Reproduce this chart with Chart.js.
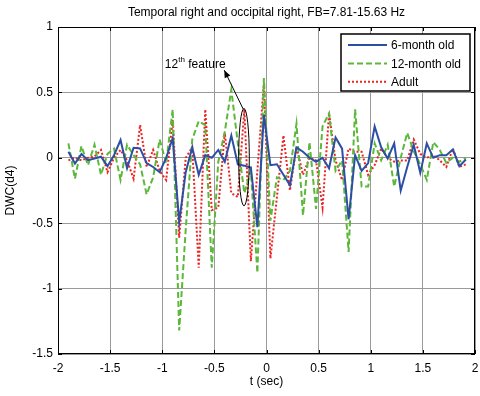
<!DOCTYPE html>
<html>
<head>
<meta charset="utf-8">
<script src="https://cdn.jsdelivr.net/npm/chart.js@4.4.1/dist/chart.umd.min.js"></script>
<style>
  html, body { margin: 0; padding: 0; background: #fff; }
  #wrap { width: 480px; height: 396px; }
</style>
</head>
<body>
<div id="wrap"><canvas id="chart" width="480" height="396"></canvas></div>
<script>
// ============================
// Data
// ============================
const times = [
  -1.9, -1.8375, -1.775, -1.7125, -1.65, -1.5875, -1.525, -1.4625, -1.4, -1.3375,
  -1.275, -1.2125, -1.15, -1.0875, -1.025, -0.9625, -0.9, -0.8375, -0.775, -0.7125,
  -0.65, -0.5875, -0.525, -0.4625, -0.4, -0.3375, -0.275, -0.2125, -0.15, -0.0875,
  -0.025, 0.0375, 0.1, 0.1625, 0.225, 0.2875, 0.35, 0.4125, 0.475, 0.5375,
  0.6, 0.6625, 0.725, 0.7875, 0.85, 0.9125, 0.975, 1.0375, 1.1, 1.1625,
  1.225, 1.2875, 1.35, 1.4125, 1.475, 1.5375, 1.6, 1.6625, 1.725, 1.7875,
  1.85, 1.9125
];

const sixMonth = [
  0.046, -0.044, 0.028, -0.018, -0.005, 0.008, -0.064, 0.02, 0.136, -0.08,
  0.077, 0.072, -0.04, -0.07, -0.11, 0.0, 0.15, -0.49, -0.11, 0.08,
  -0.13, 0.02, 0.0, 0.06, -0.03, 0.17, -0.05, -0.06, -0.075, -0.53,
  0.33, -0.056, -0.05, -0.13, -0.21, 0.08, 0.046, 0.0, -0.03, 0.0,
  -0.08, 0.156, 0.07, -0.47, 0.02, -0.1, -0.04, 0.24, 0.08, -0.005,
  0.11, -0.25, -0.07, 0.1, -0.115, 0.11, 0.0, 0.02, 0.02, 0.064,
  -0.064, -0.013
];

const twelveMonth = [
  0.11, -0.16, 0.09, -0.056, 0.1, -0.13, 0.03, 0.07, -0.17, 0.1,
  0.02, -0.05, -0.28, -0.15, 0.14, -0.04, 0.37, -1.32, -0.55, 0.14,
  0.28, 0.25, -0.84, -0.03, 0.2, 0.52, 0.11, -0.27, -0.1, -0.88,
  0.61, -0.48, -0.15, -0.17, -0.1, 0.26, -0.44, 0.12, -0.39, 0.24,
  0.34, -0.1, -0.02, -0.72, 0.37, -0.22, -0.22, 0.11, -0.02, 0.1,
  -0.22, 0.0, 0.19, 0.05, -0.05, -0.17, 0.12, 0.06, -0.04, 0.0,
  -0.03, 0.0
];

const adult = [
  -0.02, 0.0, -0.02, 0.0, 0.01, 0.06, -0.11, 0.0, 0.06, -0.02,
  -0.16, 0.25, -0.07, 0.06, -0.1, -0.17, 0.29, -0.61, 0.0, 0.08,
  -0.84, 0.37, -0.4, -0.38, 0.19, -0.27, -0.3, 0.37, -0.79, -0.1,
  0.57, -0.77, -0.3, 0.17, -0.25, 0.085, -0.13, 0.0, -0.02, -0.38,
  0.34, -0.02, -0.17, 0.07, 0.046, 0.046, -0.13, -0.056, 0.07, 0.0,
  -0.03, -0.02, -0.02, 0.14, 0.03, 0.0, 0.02, -0.02, -0.07, 0.07,
  -0.07, -0.05
];

const seriesNames = ["6-month old", "12-month old", "Adult"];
const xTicks = [-2, -1.5, -1, -0.5, 0, 0.5, 1, 1.5, 2];
const yTicks = [-1.5, -1, -0.5, 0, 0.5, 1];

// annotation: "12th feature" ellipse + arrow (data units)
const featureEllipse = { x: -0.216, y: 0.005, rx: 0.051, ry: 0.372 };
const featureArrow = { fromX: -0.222, fromY: 0.37, toX: -0.405, toY: 0.67 };
const featureLabel = { x: -0.975, y: 0.685, text: "12", sup: "th", rest: " feature" };

const FONT = "'Liberation Sans', Arial, sans-serif";

function toPoints(ys) {
  return ys.map(function (y, i) { return { x: times[i], y: y }; });
}

// ============================
// Plugins: frame, legend, annotation
// ============================
const framePlugin = {
  id: 'frame',
  afterDatasetsDraw(chart) {
    const c = chart.ctx, a = chart.chartArea;
    const xs = chart.scales.x, ys = chart.scales.y;
    c.save();
    c.strokeStyle = '#000';
    c.lineWidth = 1;
    c.strokeRect(a.left + 0.5, a.top + 0.5, a.right - a.left - 1, a.bottom - a.top - 1);
    c.beginPath();
    xTicks.forEach(function (v) {
      const px = Math.round(xs.getPixelForValue(v)) + 0.5;
      c.moveTo(px, a.bottom); c.lineTo(px, a.bottom - 4);
      c.moveTo(px, a.top); c.lineTo(px, a.top + 4);
    });
    yTicks.forEach(function (v) {
      const py = Math.round(ys.getPixelForValue(v)) + 0.5;
      c.moveTo(a.left, py); c.lineTo(a.left + 4, py);
      c.moveTo(a.right, py); c.lineTo(a.right - 4, py);
    });
    c.stroke();
    c.restore();
  }
};

const legendPlugin = {
  id: 'boxLegend',
  afterDraw(chart) {
    const c = chart.ctx, a = chart.chartArea;
    const w = 129, h = 57;
    const x0 = a.right - 5 - w, y0 = a.top + 7;
    c.save();
    c.fillStyle = '#fff';
    c.fillRect(x0, y0, w, h);
    c.strokeStyle = '#000';
    c.lineWidth = 1.5;
    c.strokeRect(x0, y0, w, h);
    c.font = '12px ' + FONT;
    c.textBaseline = 'middle';
    chart.data.datasets.forEach(function (ds, i) {
      const yy = y0 + 11 + i * 18.4;
      c.strokeStyle = ds.borderColor;
      c.lineWidth = ds.borderWidth;
      c.setLineDash(ds.borderDash || []);
      c.beginPath();
      c.moveTo(x0 + 7, yy);
      c.lineTo(x0 + 46, yy);
      c.stroke();
      c.setLineDash([]);
      c.fillStyle = '#000';
      c.fillText(ds.label, x0 + 50, yy + 1);
    });
    c.restore();
  }
};

const notePlugin = {
  id: 'feature',
  afterDatasetsDraw(chart) {
    const c = chart.ctx;
    const xs = chart.scales.x, ys = chart.scales.y;
    c.save();
    c.strokeStyle = '#000';
    c.fillStyle = '#000';
    c.lineWidth = 1;
    // ellipse
    const cx = xs.getPixelForValue(featureEllipse.x);
    const cy = ys.getPixelForValue(featureEllipse.y);
    const rx = Math.abs(xs.getPixelForValue(featureEllipse.x + featureEllipse.rx) - cx);
    const ry = Math.abs(ys.getPixelForValue(featureEllipse.y + featureEllipse.ry) - cy);
    c.beginPath();
    c.ellipse(cx, cy, rx, ry, 0, 0, Math.PI * 2);
    c.stroke();
    // arrow
    const x1 = xs.getPixelForValue(featureArrow.fromX), y1 = ys.getPixelForValue(featureArrow.fromY);
    const x2 = xs.getPixelForValue(featureArrow.toX), y2 = ys.getPixelForValue(featureArrow.toY);
    c.beginPath();
    c.moveTo(x1, y1); c.lineTo(x2, y2);
    c.stroke();
    const ang = Math.atan2(y2 - y1, x2 - x1);
    c.beginPath();
    c.moveTo(x2, y2);
    c.lineTo(x2 - 8 * Math.cos(ang - 0.4), y2 - 8 * Math.sin(ang - 0.4));
    c.lineTo(x2 - 8 * Math.cos(ang + 0.4), y2 - 8 * Math.sin(ang + 0.4));
    c.closePath();
    c.fill();
    // label with superscript
    let tx = xs.getPixelForValue(featureLabel.x);
    const ty = ys.getPixelForValue(featureLabel.y);
    c.textBaseline = 'alphabetic';
    c.font = '12px ' + FONT;
    c.fillText(featureLabel.text, tx, ty);
    tx += c.measureText(featureLabel.text).width;
    c.font = '8px ' + FONT;
    c.fillText(featureLabel.sup, tx, ty - 6);
    tx += c.measureText(featureLabel.sup).width;
    c.font = '12px ' + FONT;
    c.fillText(featureLabel.rest, tx, ty);
    c.restore();
  }
};

// ============================
// Chart
// ============================
const ctx = document.getElementById('chart').getContext('2d');
const chart = new Chart(ctx, {
  type: 'line',
  data: {
    datasets: [{
      label: seriesNames[0],
      data: toPoints(sixMonth),
      borderColor: '#2C4FA3',
      borderWidth: 2,
      pointRadius: 0,
      tension: 0
    }, {
      label: seriesNames[1],
      data: toPoints(twelveMonth),
      borderColor: '#5CB83A',
      borderWidth: 2,
      borderDash: [6, 3],
      pointRadius: 0,
      tension: 0
    }, {
      label: seriesNames[2],
      data: toPoints(adult),
      borderColor: '#EE2222',
      borderWidth: 2,
      borderDash: [2, 2],
      pointRadius: 0,
      tension: 0
    }]
  },
  options: {
    responsive: false,
    animation: false,
    layout: { padding: { left: 0, right: 5, top: 0, bottom: 0 } },
    plugins: {
      legend: { display: false },
      tooltip: { enabled: false },
      title: {
        display: true,
        fullSize: false,
        text: 'Temporal right and occipital right, FB=7.81-15.63 Hz',
        color: '#000',
        font: { family: FONT, size: 12, weight: 'normal' },
        padding: { top: 5, bottom: 7.6 }
      }
    },
    scales: {
      x: {
        type: 'linear',
        min: -2,
        max: 2,
        afterBuildTicks: function (s) { s.ticks = xTicks.map(function (v) { return { value: v }; }); },
        afterFit: function (s) { s.height = 42; s.paddingLeft = 0; s.paddingRight = 0; },
        grid: { color: '#9a9a9a', drawTicks: false },
        border: { display: false },
        ticks: {
          color: '#000', padding: 7, font: { family: FONT, size: 12 }, maxRotation: 0,
          callback: function (v) { return String(v); }
        },
        title: { display: true, text: 't (sec)', color: '#000', font: { family: FONT, size: 12 }, padding: { top: 0, bottom: 7 } }
      },
      y: {
        type: 'linear',
        min: -1.5,
        max: 1,
        afterBuildTicks: function (s) { s.ticks = yTicks.map(function (v) { return { value: v }; }); },
        afterFit: function (s) { s.width = 58; s.paddingTop = 0; s.paddingBottom = 0; },
        grid: { color: '#9a9a9a', drawTicks: false },
        border: { display: false },
        ticks: {
          color: '#000', padding: 5, font: { family: FONT, size: 12 },
          callback: function (v) { return String(v); }
        },
        title: { display: true, text: 'DWC(d4)', color: '#000', font: { family: FONT, size: 12 }, padding: { top: 3, bottom: 0 } }
      }
    }
  },
  plugins: [framePlugin, notePlugin, legendPlugin]
});
</script>
</body>
</html>
